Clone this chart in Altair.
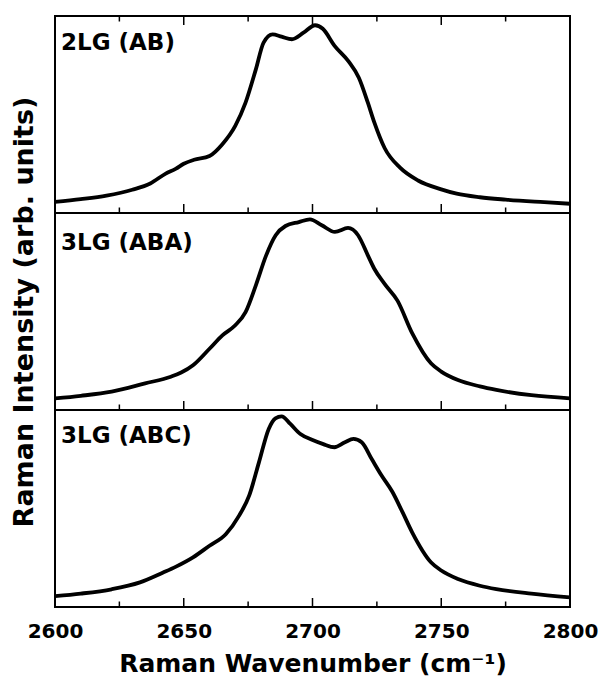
import altair as alt
import pandas as pd

# ---- data ----
wn_ab = [2600, 2610, 2620, 2630, 2637, 2643, 2647, 2650, 2654, 2660, 2665, 2670, 2674, 2678, 2681,
         2684.5, 2688, 2692, 2696.5, 2701, 2704, 2708.5, 2714, 2718, 2721.5, 2724, 2728, 2734, 2741,
         2750, 2756, 2765, 2775, 2790, 2800]
int_ab = [0.056, 0.070, 0.088, 0.118, 0.150, 0.200, 0.225, 0.250, 0.270, 0.289, 0.349, 0.442, 0.560,
          0.729, 0.865, 0.907, 0.895, 0.882, 0.915, 0.953, 0.935, 0.850, 0.770, 0.687, 0.560, 0.460,
          0.330, 0.230, 0.165, 0.120, 0.098, 0.080, 0.068, 0.055, 0.047]

wn_aba = [2600, 2610, 2622, 2635, 2645, 2649, 2653.6, 2660, 2665, 2670, 2674, 2678, 2682, 2685.7,
          2689.5, 2694.7, 2699, 2703.6, 2708.7, 2713.8, 2717.7, 2721.5, 2724, 2728, 2733, 2738.7,
          2746, 2750, 2756.5, 2765, 2771.4, 2785, 2800]
int_aba = [0.059, 0.072, 0.093, 0.135, 0.169, 0.190, 0.227, 0.311, 0.379, 0.430, 0.497, 0.633, 0.785,
           0.887, 0.934, 0.954, 0.968, 0.938, 0.904, 0.924, 0.887, 0.785, 0.717, 0.640, 0.555, 0.390,
           0.237, 0.195, 0.152, 0.120, 0.102, 0.075, 0.059]

wn_abc = [2600, 2610, 2622, 2633, 2642, 2647, 2653.6, 2660, 2666.4, 2671.5, 2675.4, 2679.2, 2683,
          2685.6, 2688, 2691.4, 2695.3, 2699.8, 2704.2, 2708.5, 2712.6, 2715.9, 2719.1, 2723, 2726.7,
          2731, 2735, 2738.7, 2746, 2750, 2756.5, 2765, 2771.4, 2785, 2800]
int_abc = [0.055, 0.068, 0.090, 0.125, 0.175, 0.205, 0.252, 0.311, 0.371, 0.464, 0.565, 0.734, 0.904,
           0.958, 0.968, 0.929, 0.878, 0.849, 0.827, 0.811, 0.836, 0.853, 0.836, 0.751, 0.670, 0.585,
           0.480, 0.379, 0.227, 0.185, 0.142, 0.108, 0.091, 0.068, 0.049]

panel_labels = ["2LG (AB)", "3LG (ABA)", "3LG (ABC)"]
x_tick_labels = [2600, 2650, 2700, 2750, 2800]
major_ticks = [2600, 2650, 2700, 2750, 2800]
minor_ticks = [2625, 2675, 2725, 2775]
x_title = "Raman Wavenumber (cm⁻¹)"
y_title = "Raman Intensity (arb. units)"

# ---- styling ----
W, H = 515, 197
FONT = "DejaVu Sans"
MAJ, MIN = 9, 5.5

xscale = alt.Scale(domain=[2600, 2800], nice=False, zero=False)
yscale = alt.Scale(domain=[0, 1], nice=False, zero=False)


def panel(wn, inten, label, label_y, top_ticks=False, show_x=False, show_y=False):
    if show_x:
        xax = alt.Axis(values=x_tick_labels, format="d", labelFont=FONT, labelFontSize=20,
                       labelFontWeight="bold", labelColor="black", labelPadding=14,
                       labelFlush=False, labelOverlap=False,
                       ticks=False, domain=False, grid=False, title=x_title,
                       titleFont=FONT, titleFontSize=25, titleFontWeight="bold",
                       titleColor="black", titlePadding=10)
    else:
        xax = None
    if show_y:
        yax = alt.Axis(labels=False, ticks=False, domain=False, grid=False, title=y_title,
                       titleFont=FONT, titleFontSize=27, titleFontWeight="bold",
                       titleColor="black", titlePadding=17)
    else:
        yax = None

    df = pd.DataFrame({"wn": wn, "I": inten})
    line = alt.Chart(df).mark_line(color="black", strokeWidth=3.8, interpolate="monotone",
                                   clip=True).encode(
        x=alt.X("wn:Q", scale=xscale, axis=xax),
        y=alt.Y("I:Q", scale=yscale, axis=yax),
    )
    maj = pd.DataFrame({"t": major_ticks})
    mnr = pd.DataFrame({"t": minor_ticks})
    layers = [line]
    layers.append(alt.Chart(maj).mark_rule(color="black", strokeWidth=1.5).encode(
        x=alt.X("t:Q", scale=xscale, axis=xax), y=alt.value(H), y2=alt.value(H - MAJ)))
    layers.append(alt.Chart(mnr).mark_rule(color="black", strokeWidth=1.5).encode(
        x=alt.X("t:Q", scale=xscale, axis=xax), y=alt.value(H), y2=alt.value(H - MIN)))
    if top_ticks:
        layers.append(alt.Chart(maj).mark_rule(color="black", strokeWidth=1.5).encode(
            x=alt.X("t:Q", scale=xscale, axis=xax), y=alt.value(0), y2=alt.value(MAJ)))
        layers.append(alt.Chart(mnr).mark_rule(color="black", strokeWidth=1.5).encode(
            x=alt.X("t:Q", scale=xscale, axis=xax), y=alt.value(0), y2=alt.value(MIN)))
    txt = alt.Chart(pd.DataFrame({"label": [label]})).mark_text(
        align="left", baseline="alphabetic", font=FONT, fontSize=23, fontWeight="bold",
        color="black").encode(x=alt.value(6), y=alt.value(label_y), text="label:N")
    layers.append(txt)
    return alt.layer(*layers).properties(width=W, height=H)


p1 = panel(wn_ab, int_ab, panel_labels[0], 34, top_ticks=True)
p2 = panel(wn_aba, int_aba, panel_labels[1], 37, show_y=True)
p3 = panel(wn_abc, int_abc, panel_labels[2], 33, show_x=True)

chart = alt.vconcat(p1, p2, p3, spacing=0, bounds="flush").properties(
    padding={"top": 6, "left": 0, "right": 0, "bottom": 0}
).configure_view(stroke="black", strokeWidth=2)

chart.save("out.html", embed_options={"renderer": "svg", "actions": False})
